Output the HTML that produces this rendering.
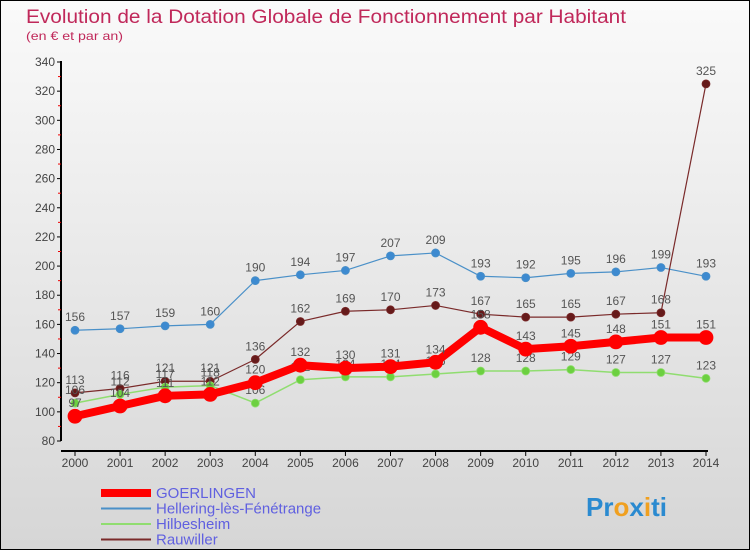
<!DOCTYPE html>
<html><head><meta charset="utf-8"><style>
body{margin:0}
#c{width:748px;height:548px;border:1px solid #000;background:linear-gradient(#fafafa,#d6d6d6);position:relative;font-family:"Liberation Sans",sans-serif;overflow:hidden}
</style></head><body>
<div id="c">
<svg id="s" width="748" height="548" xmlns="http://www.w3.org/2000/svg">
<text x="25" y="22" font-size="19" fill="#c0285a" textLength="600" lengthAdjust="spacingAndGlyphs">Evolution de la Dotation Globale de Fonctionnement par Habitant</text>
<text x="25" y="39" font-size="12" fill="#c0285a" textLength="97" lengthAdjust="spacingAndGlyphs">(en € et par an)</text>
<g id="g"></g>
<text x="585" y="515" font-size="26" font-weight="bold" fill="#2a8ad0">Pr<tspan fill="#f0a020">o</tspan><tspan fill="#2a8ad0">x</tspan><tspan fill="#f0a020">i</tspan>ti</text>
</svg>
</div>
<script>
const years=[2000,2001,2002,2003,2004,2005,2006,2007,2008,2009,2010,2011,2012,2013,2014];
const goerlingen=[97,104,111,112,120,132,130,131,134,158,143,145,148,151,151];
const hellering=[156,157,159,160,190,194,197,207,209,193,192,195,196,199,193];
const hilbesheim=[106,112,117,118,106,122,124,124,126,128,128,129,127,127,123];
const rauwiller=[113,116,121,121,136,162,169,170,173,167,165,165,167,168,325];
const yTicks=[80,100,120,140,160,180,200,220,240,260,280,300,320,340];
const names=["GOERLINGEN","Hellering-lès-Fénétrange","Hilbesheim","Rauwiller"];
const g=document.getElementById('g');const NS="http://www.w3.org/2000/svg";
const X=i=>74+i*(631/14);const Y=v=>440-(v-80)*(379/260);
function el(t,a,txt){const e=document.createElementNS(NS,t);for(const k in a)e.setAttribute(k,a[k]);if(txt!=null)e.textContent=txt;g.appendChild(e);return e;}
let e=el('line',{x1:60,y1:60,x2:60,y2:440,stroke:'#000','stroke-width':2});

e=el('line',{x1:60,y1:450,x2:X(14)+2,y2:450,stroke:'#000','stroke-width':2});

yTicks.forEach(v=>{el('line',{x1:56,y1:Y(v),x2:60,y2:Y(v),stroke:'#000'});
 if(v<340)el('line',{x1:57,y1:Y(v+10),x2:60,y2:Y(v+10),stroke:'#e00'});
 e=el('text',{x:54,y:Y(v)+4,'font-size':12,fill:'#444','text-anchor':'end'},v);
 });
years.forEach((y,i)=>{el('line',{x1:X(i),y1:450,x2:X(i),y2:455,stroke:'#000'});
 e=el('text',{x:X(i),y:466,'font-size':12,fill:'#444','text-anchor':'middle'},y);
 });
function series(d,col,w,r,fill,name){
 e=el('polyline',{points:d.map((v,i)=>X(i)+','+Y(v)).join(' '),fill:'none',stroke:col,'stroke-width':w,'stroke-linejoin':'round'});
 
 d.forEach((v,i)=>{e=el('circle',{cx:X(i),cy:Y(v),r:r,fill:fill,stroke:col,'stroke-width':0.8});
  
  e=el('text',{x:X(i),y:Y(v)-9,'font-size':12,fill:'#555','text-anchor':'middle'},v);
  });
}
series(hellering,'#4a90c8',1.2,4,'#3d8ad0','hellering');
series(rauwiller,'#7a2a2a',1.2,4,'#661a1a','rauwiller');
series(hilbesheim,'#90dd70',1.5,4,'#6cd040','hilbesheim');
series(goerlingen,'#ff0000',8,7,'#ff0000','goerlingen');
const lc=[['#ff0000',8],['#4a90c8',2],['#90dd70',2],['#7a2a2a',2]];
names.forEach((n,i)=>{const y=492+i*15.5;
 e=el('line',{x1:100,y1:y,x2:150,y2:y,stroke:lc[i][0],'stroke-width':lc[i][1]});
 
 e=el('text',{x:155,y:y+5,'font-size':15,fill:'#6060e0'},n);
 });
</script>
</body></html>
